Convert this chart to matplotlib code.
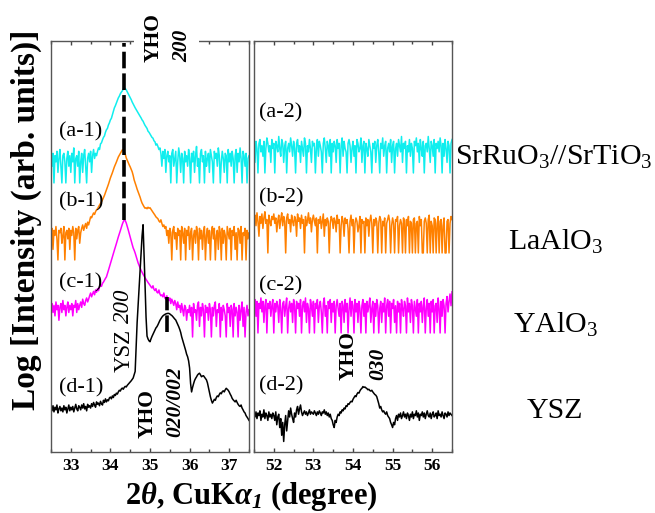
import numpy as np
import matplotlib.pyplot as plt
from matplotlib.patches import Rectangle
import matplotlib.transforms as mtransforms

plt.rcParams['font.family'] = 'Liberation Serif'
plt.rcParams['mathtext.fontset'] = 'custom'
plt.rcParams['mathtext.rm'] = 'Liberation Serif'
plt.rcParams['mathtext.it'] = 'Liberation Serif:italic'
plt.rcParams['mathtext.bf'] = 'Liberation Serif:bold:italic'

# --- SCAN SETTINGS ---
step = 0.025                 # degree per point
low_start, high_start = 32.5, 51.5

# --- RAW COUNTS, 32.5-37.5 deg window ---
sro_low = [
    5, 3, 7, 1, 6, 4, 8, 2, 5, 9, 3, 1, 6, 7, 4, 1, 5, 8, 3, 6,
    2, 7, 4, 10, 1, 5, 6, 3, 8, 1, 4, 7, 2, 6, 9, 3, 1, 5, 7, 4,
    8, 2, 6, 9, 5, 7, 6, 8, 10, 9, 13, 14, 17, 20, 22, 28, 33, 36, 45, 52,
    63, 70, 88, 110, 139, 160, 190, 230, 268, 300, 350, 390, 425, 480, 515, 500, 455, 400, 350, 310,
    268, 240, 205, 180, 158, 140, 125, 112, 100, 90, 80, 72, 63, 58, 50, 44, 40, 36, 30, 28,
    25, 22, 20, 19, 16, 15, 12, 13, 11, 9, 10, 7, 3, 8, 5, 9, 2, 6, 8, 4,
    6, 1, 7, 9, 3, 5, 8, 1, 4, 10, 6, 2, 7, 5, 1, 8, 4, 6, 3, 9,
    5, 1, 7, 4, 8, 2, 6, 11, 3, 5, 1, 7, 9, 4, 6, 1, 8, 3, 5, 7,
    2, 9, 6, 4, 1, 8, 5, 7, 3, 10, 6, 1, 4, 8, 5, 2, 7, 6, 1, 9,
    4, 7, 3, 8, 5, 1, 6, 9, 2, 7, 4, 10, 5, 1, 8, 6, 3, 7, 1, 5,
    6]
lao_low = [
    6, 8, 2, 7, 5, 9, 4, 1, 7, 6, 8, 3, 5, 9, 1, 6, 7, 4, 8, 2,
    7, 5, 9, 6, 1, 8, 4, 7, 9, 3, 6, 8, 10, 7, 9, 11, 8, 12, 10, 13,
    17, 16, 19, 22, 20, 24, 27, 29, 33, 37, 41, 46, 52, 60, 70, 84, 100, 120, 145, 180,
    220, 260, 310, 380, 455, 530, 620, 740, 870, 980, 1100, 1260, 1390, 1330, 1220, 1050, 820, 700, 600, 520,
    455, 390, 330, 260, 193, 160, 130, 105, 88, 74, 62, 50, 42, 37, 33, 30, 31, 29, 32, 30,
    31, 28, 25, 23, 21, 19, 17, 16, 15, 13, 12, 14, 11, 9, 10, 8, 9, 5, 7, 3,
    8, 6, 1, 7, 9, 4, 6, 2, 8, 5, 7, 1, 9, 6, 3, 8, 1, 7, 5, 9,
    2, 6, 8, 1, 5, 7, 3, 9, 6, 1, 8, 4, 7, 2, 6, 9, 1, 5, 8, 3,
    7, 1, 6, 9, 4, 8, 1, 5, 7, 2, 9, 6, 1, 8, 3, 7, 5, 1, 9, 6,
    4, 8, 1, 7, 5, 9, 2, 6, 1, 8, 7, 3, 9, 1, 6, 5, 8, 1, 7, 4,
    6]
yao_low = [
    7, 9, 5, 8, 4, 10, 6, 8, 3, 7, 9, 5, 11, 6, 8, 4, 7, 10, 5, 8,
    6, 9, 4, 8, 7, 11, 5, 9, 6, 8, 10, 7, 12, 9, 8, 11, 13, 10, 12, 15,
    18, 14, 17, 20, 16, 22, 19, 24, 21, 27, 31, 28, 34, 37, 42, 47, 52, 64, 80, 100,
    125, 155, 193, 240, 300, 370, 460, 580, 720, 880, 1080, 1350, 1650, 1950, 2200, 2100, 1800, 1450, 1150, 900,
    720, 560, 440, 350, 300, 250, 200, 160, 130, 110, 93, 80, 70, 62, 55, 49, 44, 40, 36, 33,
    30, 27, 25, 29, 23, 21, 24, 19, 18, 22, 17, 15, 16, 14, 18, 13, 12, 15, 11, 11,
    13, 9, 12, 10, 8, 11, 9, 6, 10, 7, 8, 5, 9, 6, 4, 8, 7, 3, 6, 5,
    8, 4, 7, 1, 9, 5, 6, 3, 8, 10, 2, 7, 4, 9, 6, 1, 8, 5, 7, 3,
    9, 6, 1, 7, 4, 8, 10, 2, 6, 5, 9, 1, 7, 3, 8, 6, 4, 1, 9, 5,
    7, 2, 8, 6, 1, 9, 4, 7, 5, 1, 8, 3, 6, 10, 2, 7, 1, 5, 8, 4,
    6]
ysz_low = [
    18, 15, 21, 14, 19, 16, 22, 13, 17, 20, 15, 18, 14, 21, 16, 19, 13, 17, 22, 15,
    19, 16, 20, 14, 18, 23, 17, 15, 21, 19, 16, 22, 18, 24, 17, 20, 15, 23, 19, 21,
    18, 24, 20, 26, 22, 19, 27, 23, 25, 21, 28, 24, 22, 30, 26, 33, 27, 31, 29, 35,
    37, 33, 40, 36, 44, 41, 48, 45, 52, 58, 55, 63, 67, 62, 70, 75, 72, 80, 86, 92,
    100, 108, 118, 130, 160, 200, 940, 5000, 15800, 49000, 154000, 490000, 1500000, 3100000,
    470000, 59000, 7200, 2050, 1700, 1500,
    1410, 1700, 2000, 2300, 2630, 3000, 3500, 3800, 4300, 5000, 5750, 6400, 7100, 7700, 8130, 8500, 8800, 9000, 9120, 9100,
    8800, 8300, 7940, 7400, 6800, 6300, 5890, 5100, 4400, 3800, 3200, 2600, 1950, 1550, 1250, 1000, 800, 620, 525, 400,
    250, 90, 52, 70, 89, 110, 126, 140, 158, 170, 178, 160, 141, 148, 151, 138, 125, 115, 95, 70,
    50, 38, 30, 25, 28, 32, 30, 36, 40, 38, 44, 49, 46, 53, 56, 52, 60, 66, 62, 58,
    52, 45, 40, 34, 31, 29, 27, 30, 26, 23, 21, 20, 22, 18, 16, 14, 13, 11, 10, 9,
    8]

# --- RAW COUNTS, 51.5-56.5 deg window ---
sro_high = [
    6, 2, 8, 5, 1, 7, 9, 4, 6, 3, 8, 1, 5, 10, 7, 4, 6, 2, 9, 5,
    7, 1, 8, 6, 4, 11, 5, 3, 9, 7, 2, 6, 8, 1, 5, 7, 4, 10, 6, 3,
    8, 5, 1, 7, 9, 4, 6, 2, 8, 5, 3, 10, 7, 1, 6, 4, 9, 5, 2, 8,
    6, 7, 1, 5, 9, 3, 8, 6, 4, 1, 7, 10, 5, 2, 8, 6, 3, 9, 1, 7,
    4, 8, 6, 2, 9, 5, 7, 1, 6, 10, 3, 8, 5, 4, 1, 7, 9, 6, 2, 5,
    8, 3, 6, 1, 9, 7, 4, 5, 10, 2, 6, 8, 1, 7, 5, 3, 9, 6, 4, 1,
    7, 5, 8, 2, 6, 9, 4, 1, 7, 5, 10, 3, 6, 8, 1, 5, 7, 4, 9, 2,
    6, 8, 1, 5, 7, 3, 9, 6, 4, 11, 2, 7, 5, 8, 1, 6, 4, 9, 3, 7,
    5, 1, 8, 6, 10, 4, 7, 2, 9, 5, 3, 8, 1, 6, 7, 4, 11, 5, 2, 8,
    6, 3, 9, 1, 7, 5, 8, 4, 10, 6, 1, 7, 3, 9, 5, 2, 8, 6, 1, 7,
    9]
lao_high = [
    9, 12, 6, 14, 8, 3, 11, 7, 13, 5, 10, 15, 7, 9, 1, 12, 8, 6, 11, 9,
    13, 7, 10, 4, 8, 12, 5, 9, 14, 6, 11, 8, 1, 10, 13, 7, 9, 4, 12, 8,
    6, 11, 9, 3, 13, 8, 10, 5, 12, 7, 9, 1, 11, 6, 8, 14, 7, 10, 4, 9,
    12, 8, 6, 10, 1, 9, 7, 11, 5, 8, 13, 3, 9, 6, 10, 8, 1, 7, 11, 9,
    5, 10, 8, 4, 12, 7, 9, 1, 6, 11, 8, 3, 10, 7, 9, 5, 1, 8, 12, 6,
    9, 1, 7, 10, 8, 4, 6, 11, 1, 9, 7, 8, 1, 10, 6, 9, 3, 8, 12, 7,
    1, 9, 6, 10, 8, 1, 7, 11, 9, 1, 8, 6, 10, 1, 7, 9, 12, 8, 1, 6,
    10, 7, 1, 9, 8, 11, 1, 6, 9, 7, 1, 10, 8, 1, 9, 6, 11, 1, 8, 7,
    1, 9, 10, 1, 7, 8, 1, 11, 6, 9, 1, 1, 8, 10, 7, 1, 9, 12, 1, 8,
    6, 1, 10, 9, 1, 7, 11, 1, 8, 9, 1, 6, 10, 1, 1, 8, 9, 1, 7, 11,
    9]
yao_high = [
    6, 9, 3, 8, 1, 7, 5, 10, 4, 8, 2, 6, 9, 1, 7, 5, 8, 3, 6, 9,
    1, 7, 4, 8, 6, 2, 9, 5, 1, 7, 8, 3, 6, 10, 1, 5, 8, 4, 7, 2,
    9, 6, 1, 8, 5, 7, 3, 9, 1, 6, 8, 4, 10, 2, 7, 5, 1, 9, 6, 3,
    8, 1, 7, 5, 9, 2, 6, 8, 4, 1, 7, 10, 3, 6, 1, 8, 5, 9, 2, 7,
    4, 8, 1, 6, 9, 5, 3, 7, 1, 8, 6, 2, 9, 4, 7, 1, 5, 10, 3, 8,
    6, 1, 9, 4, 7, 2, 8, 5, 1, 6, 9, 3, 7, 1, 8, 4, 6, 10, 2, 5,
    8, 1, 7, 3, 9, 6, 1, 5, 8, 2, 7, 4, 10, 1, 6, 9, 3, 8, 1, 7,
    5, 9, 2, 6, 1, 8, 4, 7, 1, 9, 5, 3, 8, 6, 1, 10, 4, 7, 2, 9,
    6, 1, 8, 5, 3, 9, 1, 7, 4, 8, 2, 6, 10, 1, 5, 9, 3, 7, 1, 8,
    4, 9, 1, 6, 7, 2, 10, 5, 1, 8, 3, 9, 6, 1, 7, 11, 4, 8, 13, 6,
    15]
ysz_high = [
    12, 10, 14, 9, 13, 11, 15, 8, 12, 10, 16, 9, 13, 11, 8, 14, 10, 12, 9, 13,
    11, 8, 14, 6, 10, 12, 5, 9, 3, 7, 2, 6, 11, 4, 8, 15, 10, 18, 12, 9,
    7, 13, 10, 16, 20, 12, 17, 22, 14, 11, 13, 15, 12, 14, 11, 13, 16, 12, 14, 13,
    12, 15, 13, 11, 14, 12, 15, 13, 11, 14, 13, 16, 12, 14, 11, 13, 10, 12, 9, 8,
    6, 5, 8, 7, 10, 12, 11, 14, 13, 16, 15, 18, 17, 21, 20, 24, 23, 26, 28, 27,
    32, 36, 40, 38, 45, 50, 48, 56, 62, 66, 74, 70, 72, 68, 65, 60, 62, 57, 55, 58,
    52, 48, 44, 42, 38, 30, 24, 18, 20, 16, 14, 15, 13, 12, 14, 11, 10, 9, 7, 6,
    5, 7, 6, 9, 11, 8, 12, 10, 13, 9, 11, 14, 10, 12, 9, 13, 11, 8, 12, 10,
    14, 9, 12, 11, 15, 10, 13, 8, 12, 11, 14, 10, 13, 9, 12, 15, 11, 10, 13, 9,
    12, 14, 10, 11, 13, 9, 15, 11, 12, 10, 14, 11, 9, 13, 12, 10, 14, 11, 13, 12,
    11]

samples = ["SrRuO$_3$//SrTiO$_3$", "LaAlO$_3$", "YAlO$_3$", "YSZ"]
tags_low = ["(a-1)", "(b-1)", "(c-1)", "(d-1)"]
tags_high = ["(a-2)", "(b-2)", "(c-2)", "(d-2)"]
yho_200 = 34.35
yho_020 = 35.43

colors = ['#10EEEE', '#FF8000', '#FF00FF', 'black']
# vertical stacking, in decades of log10 counts
shift_low = [7.686, 5.486, 3.286, 0.0]
shift_high = [7.971, 5.686, 3.40, 0.0]

fig = plt.figure(figsize=(6.55, 5.13), dpi=100)
ax1 = fig.add_axes([51 / 655, 61 / 513, 198 / 655, 411 / 513])
ax2 = fig.add_axes([254 / 655, 61 / 513, 198 / 655, 411 / 513])

for counts, c, s in zip([sro_low, lao_low, yao_low, ysz_low], colors, shift_low):
    tth = low_start + step * np.arange(len(counts))
    ax1.plot(tth, np.log10(counts) + s, color=c, lw=1.1)
for counts, c, s in zip([sro_high, lao_high, yao_high, ysz_high], colors, shift_high):
    tth = high_start + step * np.arange(len(counts))
    ax2.plot(tth, np.log10(counts) + s, color=c, lw=1.1)

# --- AXES ---
for ax, lo in ((ax1, low_start), (ax2, high_start)):
    ax.set_xlim(lo, lo + 5)
    ax.set_ylim(0, 11.74)
    ax.set_yticks([])
    majors = np.arange(lo + 0.5, lo + 5, 1.0)
    ax.set_xticks(majors)
    ax.set_xticklabels([f"{v:.0f}" for v in majors], fontweight='bold')
    ax.set_xticks(np.arange(lo, lo + 5.01, 0.5), minor=True)
    ax.tick_params(axis='x', which='both', direction='in', top=True, bottom=True,
                   pad=4, colors='#444444', labelcolor='black')
    ax.tick_params(axis='x', which='major', length=3, width=1, labelsize=12.5)
    ax.tick_params(axis='x', which='minor', length=2, width=1)
    for sp in ax.spines.values():
        sp.set_color('#555555')
        sp.set_linewidth(1.0)

# --- PEAK MARKERS ---
ax1.plot([yho_200, yho_200], [6.63, 11.69], color='black', lw=2.6,
         dashes=(4.6, 1.4), zorder=4)
ax1.plot([yho_020, yho_020], [3.43, 4.43], color='black', lw=2.6,
         dashes=(4.6, 1.4), zorder=4)

# white patch breaking the top frame behind the YHO 200 label
trans = mtransforms.blended_transform_factory(ax1.transData, ax1.transAxes)
ax1.add_patch(Rectangle((34.60, 0.985), 1.64, 0.06, transform=trans,
                        facecolor='white', edgecolor='none', clip_on=False, zorder=5))

ax1.text(35.10, 11.14, "YHO", rotation=90, ha='center', va='bottom',
         fontsize=15.5, fontweight='bold', zorder=6)
ax1.text(35.81, 11.14, "200", rotation=90, ha='center', va='bottom',
         fontsize=15.5, fontweight='bold', fontstyle='italic', zorder=6)
ax1.text(34.34, 2.29, "YSZ", rotation=90, ha='center', va='bottom', fontsize=16.5)
ax1.text(34.34, 3.69, "200", rotation=90, ha='center', va='bottom', fontsize=16.5,
         fontstyle='italic')
ax1.text(34.94, 0.40, "YHO", rotation=90, ha='center', va='bottom',
         fontsize=15.5, fontweight='bold')
ax1.text(35.64, 0.43, "020/002", rotation=90, ha='center', va='bottom',
         fontsize=15.5, fontweight='bold', fontstyle='italic')
ax2.text(53.90, 2.06, "YHO", rotation=90, ha='center', va='bottom',
         fontsize=15.5, fontweight='bold')
ax2.text(54.63, 2.06, "030", rotation=90, ha='center', va='bottom',
         fontsize=15.5, fontweight='bold', fontstyle='italic')

# panel tags
for tag, y in zip(tags_low, [9.14, 7.14, 4.83, 1.83]):
    ax1.text(32.70, y, tag, ha='left', va='center', fontsize=16)
for tag, y in zip(tags_high, [9.69, 7.26, 4.74, 1.89]):
    ax2.text(51.63, y, tag, ha='left', va='center', fontsize=16)

# sample names on the right
fig.text(455 / 655, 0.678, samples[0], ha='left', va='baseline', fontsize=21.5)
for name, y in zip(samples[1:], [0.513, 0.351, 0.185]):
    fig.text(555 / 655, y, name, ha='center', va='baseline', fontsize=21.5)

fig.text(0.383, 0.017, r"2$\mathbf{\theta}$, CuK$\mathbf{\alpha}_\mathbf{1}$ (degree)",
         ha='center', va='baseline', fontsize=22, fontweight='bold')
fig.text(0.041, 0.571, "Log [Intensity (arb. units)]", rotation=90,
         ha='center', va='center', fontsize=24, fontweight='bold')

fig.savefig("out.png", dpi=100)
